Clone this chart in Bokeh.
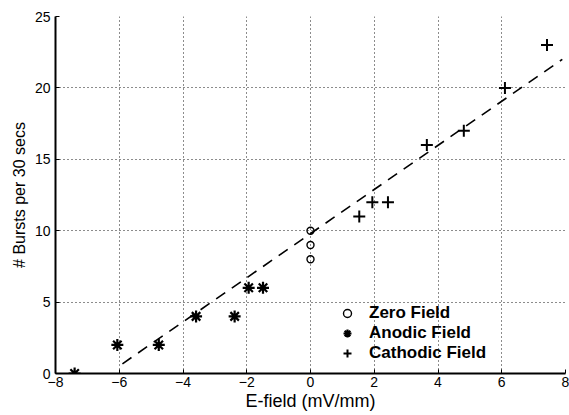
from bokeh.plotting import figure
from bokeh.models import Legend, LegendItem, FixedTicker
from bokeh.embed import file_html
from bokeh.resources import INLINE

# Data
zero_x = [0, 0, 0]
zero_y = [8, 9, 10]
anodic_x = [-7.4, -6.06, -4.76, -3.59, -2.38, -1.94, -1.49]
anodic_y = [0, 2, 2, 4, 4, 6, 6]
cath_x = [1.53, 1.94, 2.43, 3.65, 4.81, 6.1, 7.42]
cath_y = [11, 12, 12, 16, 17, 20, 23]
fit_x = [-5.9, 7.9]
fit_y = [0.68, 22.0]

x_ticks = [-8, -6, -4, -2, 0, 2, 4, 6, 8]
y_ticks = [0, 5, 10, 15, 20, 25]
legend_labels = ["Zero Field", "Anodic Field", "Cathodic Field"]

FONT = "Liberation Sans"

p = figure(frame_width=510, frame_height=357, x_range=(-8, 8), y_range=(0, 25),
           output_backend="svg", toolbar_location=None,
           min_border_left=55, min_border_right=4, min_border_top=16, min_border_bottom=35,
           background_fill_color="white", border_fill_color="white")
p.outline_line_color = None

for ax in (p.xaxis[0], p.yaxis[0]):
    ax.axis_line_width = 2
    ax.axis_line_color = "black"
    ax.major_tick_in = 4
    ax.major_tick_out = 0
    ax.minor_tick_in = 0
    ax.minor_tick_out = 0
    ax.major_label_text_font = FONT
    ax.major_label_text_font_size = "14px"
    ax.major_label_text_color = "black"
    ax.axis_label_text_font = FONT
    ax.axis_label_text_font_style = "normal"
    ax.axis_label_text_color = "black"

p.xaxis[0].axis_label_text_font_size = "18px"
p.yaxis[0].axis_label_text_font_size = "16px"
p.xaxis[0].ticker = FixedTicker(ticks=x_ticks)
p.yaxis[0].ticker = FixedTicker(ticks=y_ticks)
p.xaxis[0].major_label_standoff = 3
p.yaxis[0].major_label_standoff = 5
p.xaxis[0].axis_label = "E-field (mV/mm)"
p.yaxis[0].axis_label = "# Bursts per 30 secs"
p.xaxis[0].axis_label_standoff = 1
p.yaxis[0].axis_label_standoff = 4

for g in (p.xgrid[0], p.ygrid[0]):
    g.grid_line_color = "black"
    g.grid_line_dash = "1 3"
    g.grid_line_width = 1
    g.grid_line_alpha = 0.9

p.line(fit_x, fit_y, line_color="black", line_width=1.6, line_dash="11 8")

r_zero = p.scatter(zero_x, zero_y, marker="circle", size=7, fill_color=None,
                   line_color="black", line_width=1.4)
r_an = p.scatter(anodic_x, anodic_y, marker="asterisk", size=12,
                 line_color="black", line_width=2.2)
r_ca = p.scatter(cath_x, cath_y, marker="cross", size=12,
                 line_color="black", line_width=2)

legend = Legend(items=[LegendItem(label=legend_labels[0], renderers=[r_zero]),
                       LegendItem(label=legend_labels[1], renderers=[r_an]),
                       LegendItem(label=legend_labels[2], renderers=[r_ca])],
                location=(282, 10), orientation="vertical")
legend.border_line_color = None
legend.background_fill_alpha = 0
legend.padding = 0
legend.margin = 0
legend.spacing = 0
legend.glyph_width = 20
legend.glyph_height = 20
legend.label_height = 20
legend.label_standoff = 12
legend.label_text_font = FONT
legend.label_text_font_size = "17px"
legend.label_text_font_style = "bold"
legend.label_text_color = "black"
p.add_layout(legend, "center")

open("out.html", "w").write(file_html(p, INLINE))
